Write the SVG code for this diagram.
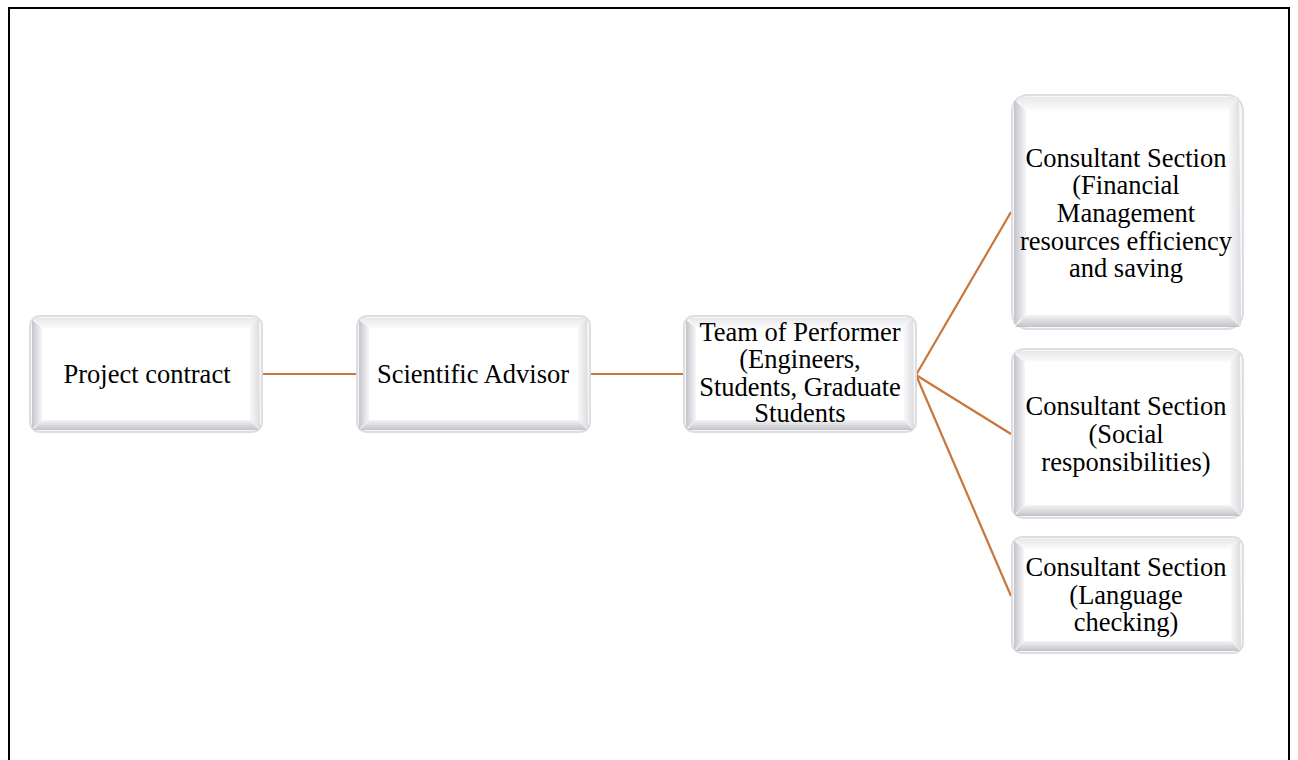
<svg xmlns="http://www.w3.org/2000/svg" width="1298" height="760" viewBox="0 0 1298 760">
<defs>
<linearGradient id="gl" x1="0" y1="0" x2="1" y2="0"><stop offset="0" stop-color="#c4c4cc"/><stop offset="1" stop-color="#f6f6f8"/></linearGradient>
<linearGradient id="gb" x1="0" y1="0" x2="0" y2="1"><stop offset="0" stop-color="#f4f4f6"/><stop offset="1" stop-color="#c2c2c8"/></linearGradient>
<linearGradient id="gt" x1="0" y1="0" x2="0" y2="1"><stop offset="0" stop-color="#e8e8ec"/><stop offset="1" stop-color="#fbfbfc"/></linearGradient>
<linearGradient id="gr" x1="0" y1="0" x2="1" y2="0"><stop offset="0" stop-color="#f8f8f9"/><stop offset="1" stop-color="#dcdce0"/></linearGradient>
<style>
.frame{fill:#f7f7f8;stroke:#dedee2;stroke-width:2}
.in{fill:#ffffff}
.l{fill:url(#gl)}.b{fill:url(#gb)}.t{fill:url(#gt)}.r{fill:url(#gr)}
.c{stroke:#c8763c;stroke-width:2.2;fill:none}
text{font-family:"Liberation Serif","Times New Roman",serif;font-size:26.5px;fill:#000;text-anchor:middle}
</style>
</defs>
<rect width="1298" height="760" fill="#fff"/>
<path d="M9 762 V8 H1289 V762" fill="none" stroke="#000" stroke-width="2"/>
<g id="connectors">
<line class="c" x1="263" y1="374" x2="357" y2="374"/>
<line class="c" x1="590" y1="374" x2="684" y2="374" stroke-width="3"/>
<line class="c" x1="916" y1="375" x2="1011" y2="212"/>
<line class="c" x1="916" y1="375" x2="1011" y2="434"/>
<line class="c" x1="916" y1="375" x2="1011" y2="596"/>
</g>
<g id="n1">
<rect class="frame" x="30" y="316" width="232" height="116" rx="10"/>
<polygon class="t" points="33,318 259,318 250,328 42,328"/>
<polygon class="r" points="259,318 260,430 250,420 250,328"/>
<polygon class="l" points="32,320 42,328 42,420 32,429"/>
<polygon class="b" points="42,420 250,420 259,430 33,430"/>
<rect class="in" x="42" y="328" width="208" height="92"/>
<text x="147" y="383">Project contract</text>
</g>
<g id="n2">
<rect class="frame" x="357" y="316" width="233" height="116" rx="10"/>
<polygon class="t" points="360,318 587,318 578,328 369,328"/>
<polygon class="r" points="587,318 588,430 578,420 578,328"/>
<polygon class="l" points="359,320 369,328 369,420 359,429"/>
<polygon class="b" points="369,420 578,420 587,430 360,430"/>
<rect class="in" x="369" y="328" width="209" height="92"/>
<text x="473" y="383">Scientific Advisor</text>
</g>
<g id="n3">
<rect class="frame" x="684" y="316" width="232" height="116" rx="10"/>
<polygon class="t" points="687,318 913,318 904,328 696,328"/>
<polygon class="r" points="913,318 914,430 904,420 904,328"/>
<polygon class="l" points="686,320 696,328 696,420 686,429"/>
<polygon class="b" points="696,420 904,420 913,430 687,430"/>
<rect class="in" x="696" y="328" width="208" height="92"/>
<text x="800" y="341">Team of Performer</text>
<text x="800" y="368">(Engineers,</text>
<text x="800" y="396">Students, Graduate</text>
<text x="800" y="422">Students</text>
</g>
<g id="n4">
<rect class="frame" x="1012" y="95" width="231" height="234" rx="16"/>
<polygon class="t" points="1016,97 1239,97 1229,110 1026,110"/>
<polygon class="r" points="1239,97 1241,326 1229,315 1229,110"/>
<polygon class="l" points="1014,100 1026,110 1026,315 1014,325"/>
<polygon class="b" points="1026,315 1229,315 1240,327 1015,327"/>
<rect class="in" x="1026" y="110" width="203" height="205"/>
<text x="1126" y="167">Consultant Section</text>
<text x="1126" y="194">(Financial</text>
<text x="1126" y="222">Management</text>
<text x="1126" y="250">resources efficiency</text>
<text x="1126" y="277">and saving</text>
</g>
<g id="n5">
<rect class="frame" x="1012" y="349" width="231" height="169" rx="12"/>
<polygon class="t" points="1015,351 1240,351 1230,362 1025,362"/>
<polygon class="r" points="1240,351 1241,516 1230,505 1230,362"/>
<polygon class="l" points="1014,354 1025,362 1025,505 1014,515"/>
<polygon class="b" points="1025,505 1230,505 1240,516 1015,516"/>
<rect class="in" x="1025" y="362" width="205" height="143"/>
<text x="1126" y="415">Consultant Section</text>
<text x="1126" y="443">(Social</text>
<text x="1126" y="471">responsibilities)</text>
</g>
<g id="n6">
<rect class="frame" x="1012" y="537" width="231" height="116" rx="10"/>
<polygon class="t" points="1015,539 1240,539 1231,549 1024,549"/>
<polygon class="r" points="1240,539 1241,651 1231,641 1231,549"/>
<polygon class="l" points="1014,541 1024,549 1024,641 1014,650"/>
<polygon class="b" points="1024,641 1231,641 1240,651 1015,651"/>
<rect class="in" x="1024" y="549" width="207" height="92"/>
<text x="1126" y="576">Consultant Section</text>
<text x="1126" y="604">(Language</text>
<text x="1126" y="631">checking)</text>
</g>
</svg>
